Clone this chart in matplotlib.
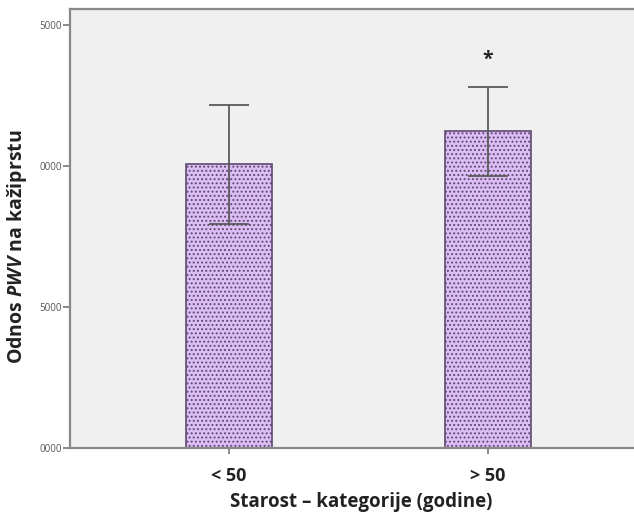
import matplotlib
matplotlib.use("Agg")
import matplotlib.pyplot as plt

# Group means with error-bar limits
categories = ["< 50", "> 50"]
means = [1.006, 1.124]
err_low = [0.794, 0.963]
err_high = [1.216, 1.282]
y_ticks = [0.0, 0.5, 1.0, 1.5]
y_tick_labels = ["0000", "5000", "0000", "5000"]
marks = ["", "*"]

plt.rcParams["font.family"] = ["Open Sans", "DejaVu Sans"]
plt.rcParams["mathtext.fontset"] = "custom"
plt.rcParams["mathtext.bfit"] = "Open Sans:bold:italic"
plt.rcParams["mathtext.rm"] = "Open Sans"
plt.rcParams["hatch.color"] = "#b48fd2"
plt.rcParams["hatch.linewidth"] = 0.9

fig = plt.figure(figsize=(6.34, 5.16), dpi=100)
ax = fig.add_axes([70 / 634, 68 / 516, 1 - 70 / 634, (448 - 9) / 516])
ax.set_facecolor("#f0f0f0")

x = list(range(len(categories)))
ax.bar(x, means, width=0.335, color="#dcbdf5", edgecolor="#5e4a6e",
       linewidth=1.2, hatch="....", zorder=2)

lower = [m - lo for m, lo in zip(means, err_low)]
upper = [hi - m for m, hi in zip(means, err_high)]
ax.errorbar(x, means, yerr=[lower, upper], fmt="none", ecolor="#5a5a5a",
            elinewidth=1.3, capsize=14.5, capthick=1.3, zorder=3)

for xi, hi, mk in zip(x, err_high, marks):
    if mk:
        ax.annotate(mk, (xi, hi), xytext=(0, 12), textcoords="offset points",
                    ha="center", va="bottom", fontsize=14, fontweight="bold",
                    color="#222222")

ax.set_xlim(-0.614, 1.564)
ax.set_ylim(0, 1.557)
ax.set_xticks(x)
ax.set_xticklabels(categories, fontsize=13, fontweight="bold", color="#222222")
ax.set_yticks(y_ticks)
ax.set_yticklabels(y_tick_labels, fontsize=7, color="#555555")

ax.spines["right"].set_visible(False)
for side in ("left", "bottom", "top"):
    ax.spines[side].set_color("#888888")
    ax.spines[side].set_linewidth(1.6)
ax.tick_params(axis="y", length=5, width=1.2, color="#777777", pad=1)
ax.tick_params(axis="x", length=4, width=1.2, color="#777777", pad=10)

ax.set_xlabel("Starost \u2013 kategorije (godine)", fontsize=13.5,
              fontweight="bold", color="#222222")
ax.set_ylabel("Odnos $\\bfit{PWV}$ na kažiprstu", fontsize=14,
              fontweight="bold", color="#222222")
ax.xaxis.set_label_coords(0.516, -0.100)
ax.yaxis.set_label_coords(-0.072, 0.458)

fig.savefig("out.png", dpi=100, facecolor="white")
